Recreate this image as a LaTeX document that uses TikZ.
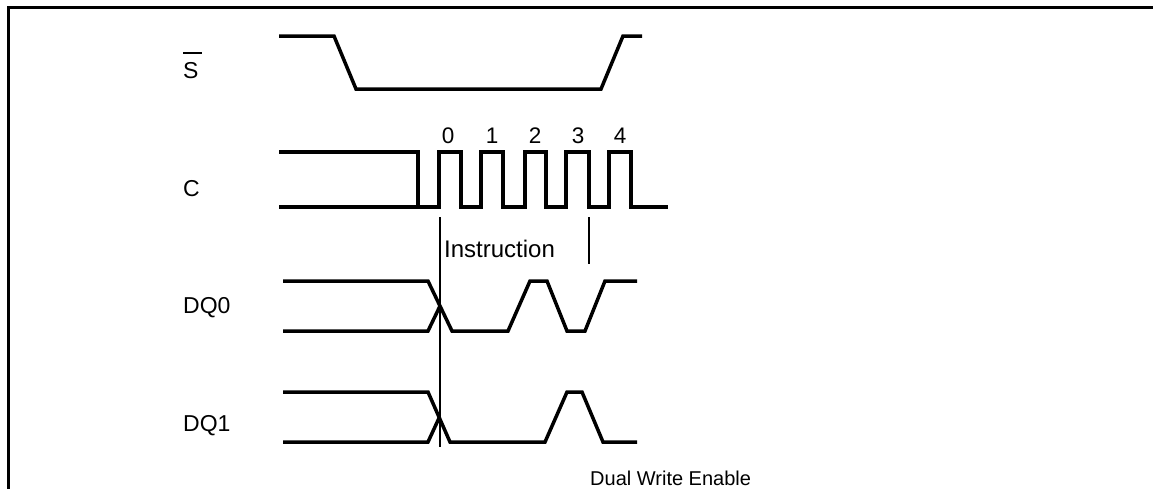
\documentclass[tikz,border=0pt]{standalone}
\usepackage{fontspec}
\setmainfont{Liberation Sans}
\begin{document}
\begin{tikzpicture}[x=1pt,y=-1pt,
  sig/.style={line width=3.5pt, line join=miter, line cap=butt},
  marker/.style={line width=1.3pt},
  frame/.style={line width=2.6pt},
  lbl/.style={font=\fontsize{23}{27}\selectfont, inner sep=0pt, anchor=base west},
  num/.style={font=\fontsize{22.5}{26}\selectfont, inner sep=0pt, anchor=base},
  note/.style={font=\fontsize{20}{24}\selectfont, inner sep=0pt, anchor=base west}]
\useasboundingbox (0,0) rectangle (1153,488);
% frame (cropped)
\draw[frame] (8.5,492) -- (8.5,7.3) -- (1158,7.3);
% signal labels
\node[lbl] (lS) at (183,78.5) {\makebox[0pt][l]{\rule[25pt]{19pt}{1.4pt}}S};
\node[lbl] (lC) at (183,196.5) {C};
\node[lbl] (lDQ0) at (183,313.5) {DQ0};
\node[lbl] (lDQ1) at (183,431.5) {DQ1};
% S bar
\draw[sig] (279,36) -- (334,36) -- (356,89) -- (601,89) -- (623,36) -- (642,36);
% C
\draw[sig] (279,152) -- (418,152) -- (418,207);
\draw[sig] (279,207) -- (439,207) -- (439,152) -- (461,152) -- (461,207)
  -- (481,207) -- (481,152) -- (503,152) -- (503,207)
  -- (525,207) -- (525,152) -- (546,152) -- (546,207)
  -- (566,207) -- (566,152) -- (589,152) -- (589,207)
  -- (609,207) -- (609,152) -- (631,152) -- (631,207) -- (668,207);
% clock numbers
\node[num] (n0) at (448,143) {0};
\node[num] (n1) at (492,143) {1};
\node[num] (n2) at (535,143) {2};
\node[num] (n3) at (578,143) {3};
\node[num] (n4) at (620,143) {4};
% markers
\draw[marker] (440,217) -- (440,447);
\draw[marker] (589,217) -- (589,264);
\node[lbl, font=\fontsize{24}{28}\selectfont] (instr) at (444,257) {Instruction};
% DQ0
\draw[sig] (283,281) -- (428,281) -- (452,331) -- (508,331) -- (530,281) -- (547,281)
  -- (567,331) -- (585,331) -- (605,281) -- (637,281);
\draw[sig] (283,331) -- (428,331) -- (440,306);
% DQ1
\draw[sig] (283,392) -- (428,392) -- (450,442) -- (545,442) -- (567,392) -- (582,392)
  -- (603,442) -- (637,442);
\draw[sig] (283,442) -- (428,442) -- (439.5,417);
% bottom note
\node[note] (dwe) at (590,485) {Dual Write Enable};
\end{tikzpicture}
\end{document}
